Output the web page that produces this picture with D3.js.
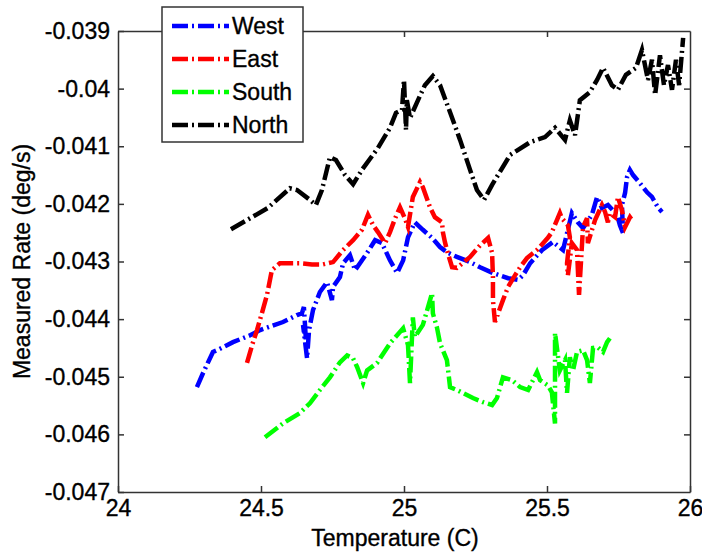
<!DOCTYPE html>
<html>
<head>
<meta charset="utf-8">
<script src="https://cdn.jsdelivr.net/npm/d3@7"></script>
<style>
  html, body { margin: 0; padding: 0; background: #ffffff; }
  svg { display: block; }
  text { font-family: "Liberation Sans", Arial, sans-serif; fill: #000; }
</style>
</head>
<body>
<svg id="chart" width="702" height="552"></svg>
<script>
// ---------------- data ----------------
const seriesNames = ["West", "East", "South", "North"];
const seriesColors = ["#0000ff", "#ff0000", "#00ff00", "#000000"];

const xTicks = [24, 24.5, 25, 25.5, 26];
const yTicks = [-0.039, -0.04, -0.041, -0.042, -0.043, -0.044, -0.045, -0.046, -0.047];
const yTickLabels = ["-0.039", "-0.04", "-0.041", "-0.042", "-0.043", "-0.044", "-0.045", "-0.046", "-0.047"];
const xTickLabels = ["24", "24.5", "25", "25.5", "26"];

const westT = [24.276,24.297,24.332,24.346,24.402,24.462,24.497,24.577,24.626,24.643,24.650,24.657,24.647,24.661,24.668,24.682,24.706,24.731,24.748,24.752,24.776,24.787,24.811,24.829,24.846,24.871,24.899,24.923,24.951,24.976,24.997,25.014,25.038,25.066,25.098,25.126,25.150,25.185,25.231,25.266,25.311,25.364,25.399,25.416,25.441,25.483,25.521,25.556,25.587,25.608,25.626,25.657,25.675,25.692,25.713,25.745,25.755,25.766,25.762,25.773,25.780,25.790,25.801,25.825,25.850,25.867,25.888,25.902];
const westRate = [-0.04518,-0.04494,-0.04457,-0.04454,-0.04440,-0.04428,-0.04419,-0.04405,-0.04393,-0.04390,-0.04379,-0.04436,-0.04410,-0.04468,-0.04419,-0.04384,-0.04353,-0.04336,-0.04367,-0.04344,-0.04327,-0.04303,-0.04289,-0.04315,-0.04303,-0.04285,-0.04263,-0.04268,-0.04298,-0.04320,-0.04298,-0.04258,-0.04232,-0.04245,-0.04259,-0.04275,-0.04284,-0.04292,-0.04301,-0.04310,-0.04320,-0.04329,-0.04332,-0.04324,-0.04303,-0.04280,-0.04266,-0.04280,-0.04216,-0.04232,-0.04242,-0.04219,-0.04188,-0.04207,-0.04202,-0.04219,-0.04237,-0.04251,-0.04202,-0.04181,-0.04153,-0.04141,-0.04150,-0.04164,-0.04180,-0.04188,-0.04206,-0.04214];

const eastT = [24.451,24.469,24.486,24.503,24.521,24.538,24.566,24.601,24.636,24.678,24.717,24.752,24.787,24.822,24.853,24.874,24.892,24.909,24.934,24.951,24.969,24.986,25.003,25.014,25.031,25.056,25.066,25.091,25.108,25.133,25.136,25.143,25.150,25.168,25.185,25.231,25.266,25.294,25.308,25.311,25.311,25.318,25.346,25.364,25.388,25.406,25.430,25.465,25.503,25.517,25.545,25.552,25.573,25.580,25.570,25.573,25.587,25.605,25.608,25.612,25.626,25.640,25.643,25.668,25.692,25.703,25.713,25.720,25.738,25.748,25.762,25.773,25.790,25.797];
const eastRate = [-0.04476,-0.04445,-0.04419,-0.04390,-0.04358,-0.04315,-0.04303,-0.04303,-0.04303,-0.04305,-0.04305,-0.04301,-0.04280,-0.04263,-0.04245,-0.04219,-0.04237,-0.04249,-0.04268,-0.04249,-0.04225,-0.04206,-0.04225,-0.04240,-0.04188,-0.04162,-0.04171,-0.04206,-0.04223,-0.04232,-0.04249,-0.04266,-0.04280,-0.04310,-0.04311,-0.04292,-0.04272,-0.04259,-0.04285,-0.04327,-0.04367,-0.04405,-0.04367,-0.04344,-0.04324,-0.04310,-0.04294,-0.04280,-0.04259,-0.04249,-0.04216,-0.04225,-0.04237,-0.04258,-0.04303,-0.04324,-0.04268,-0.04280,-0.04315,-0.04358,-0.04240,-0.04225,-0.04268,-0.04228,-0.04202,-0.04214,-0.04232,-0.04216,-0.04223,-0.04188,-0.04211,-0.04240,-0.04223,-0.04228];

const southT = [24.514,24.577,24.636,24.671,24.706,24.741,24.776,24.801,24.822,24.836,24.857,24.871,24.906,24.951,24.997,25.014,25.021,25.031,25.038,25.066,25.098,25.101,25.115,25.126,25.150,25.161,25.185,25.241,25.276,25.308,25.325,25.346,25.378,25.406,25.434,25.465,25.476,25.503,25.517,25.528,25.528,25.545,25.563,25.570,25.580,25.591,25.605,25.626,25.640,25.650,25.661,25.678,25.696,25.710,25.727];
const southRate = [-0.04605,-0.04581,-0.04563,-0.04546,-0.04523,-0.04501,-0.04475,-0.04463,-0.04468,-0.04483,-0.04511,-0.04489,-0.04476,-0.04442,-0.04416,-0.04445,-0.04511,-0.04397,-0.04431,-0.04410,-0.04355,-0.04390,-0.04414,-0.04442,-0.04471,-0.04518,-0.04523,-0.04537,-0.04544,-0.04549,-0.04537,-0.04501,-0.04506,-0.04518,-0.04523,-0.04492,-0.04506,-0.04515,-0.04527,-0.04581,-0.04424,-0.04489,-0.04471,-0.04528,-0.04466,-0.04489,-0.04457,-0.04454,-0.04471,-0.04511,-0.04450,-0.04449,-0.04457,-0.04440,-0.04428];

const northT = [24.395,24.462,24.524,24.601,24.626,24.671,24.692,24.713,24.741,24.762,24.794,24.822,24.853,24.909,24.951,24.972,24.993,25.000,25.007,25.010,25.021,25.049,25.073,25.101,25.126,25.161,25.196,25.231,25.255,25.280,25.308,25.371,25.441,25.493,25.528,25.563,25.580,25.598,25.615,25.650,25.675,25.696,25.727,25.748,25.776,25.811,25.832,25.853,25.867,25.878,25.895,25.909,25.923,25.937,25.951,25.962,25.976];
const northRate = [-0.04244,-0.04225,-0.04207,-0.04173,-0.04176,-0.04193,-0.04202,-0.04176,-0.04119,-0.04124,-0.04150,-0.04166,-0.04141,-0.04103,-0.04068,-0.04042,-0.04037,-0.03985,-0.04072,-0.04020,-0.04051,-0.04020,-0.03994,-0.03978,-0.03994,-0.04041,-0.04089,-0.04141,-0.04176,-0.04193,-0.04167,-0.04115,-0.04093,-0.04084,-0.04068,-0.04089,-0.04055,-0.04081,-0.04020,-0.04006,-0.03985,-0.03964,-0.03994,-0.04002,-0.03976,-0.03964,-0.03933,-0.03985,-0.03950,-0.04011,-0.03942,-0.03994,-0.03959,-0.04002,-0.03950,-0.03994,-0.03912];

// ---------------- layout ----------------
const svg = d3.select("#chart");
const W = 702, H = 552;
const plot = { left: 118, right: 690, top: 31, bottom: 492 };
const fontSize = 23;
const axisColor = "#333333";
const lineWidth = 4.5;
const dashPattern = "16,4,2,4";
const textStroke = 0.35;

svg.append("rect").attr("width", W).attr("height", H).attr("fill", "#ffffff");

const x = d3.scaleLinear().domain([24, 26]).range([plot.left, plot.right]);
const y = d3.scaleLinear().domain([-0.047, -0.039]).range([plot.bottom, plot.top]);

const allSeries = [
  { name: seriesNames[0], color: seriesColors[0], t: westT, r: westRate },
  { name: seriesNames[1], color: seriesColors[1], t: eastT, r: eastRate },
  { name: seriesNames[2], color: seriesColors[2], t: southT, r: southRate },
  { name: seriesNames[3], color: seriesColors[3], t: northT, r: northRate }
];

const line = d3.line().x(d => x(d[0])).y(d => y(d[1]));

const linesG = svg.append("g");
allSeries.forEach(s => {
  const pts = s.t.map((t, i) => [t, s.r[i]]);
  linesG.append("path")
    .datum(pts)
    .attr("d", line)
    .attr("fill", "none")
    .attr("stroke", s.color)
    .attr("stroke-width", lineWidth)
    .attr("stroke-dasharray", dashPattern)
    .attr("stroke-linejoin", "miter")
    .attr("stroke-linecap", "butt");
});

// axes (ticks inward, box on all sides)
const tickLen = 6;
const fmtY = d => yTickLabels[yTicks.indexOf(d)];
const fmtX = d => xTickLabels[xTicks.indexOf(d)];

const gLeft = svg.append("g").attr("transform", `translate(${plot.left},0)`)
  .call(d3.axisLeft(y).tickValues(yTicks).tickFormat(fmtY).tickSizeInner(-tickLen).tickSizeOuter(0).tickPadding(8));
const gRight = svg.append("g").attr("transform", `translate(${plot.right},0)`)
  .call(d3.axisRight(y).tickValues(yTicks).tickFormat("").tickSizeInner(-tickLen).tickSizeOuter(0));
const gBottom = svg.append("g").attr("transform", `translate(0,${plot.bottom})`)
  .call(d3.axisBottom(x).tickValues(xTicks).tickFormat(fmtX).tickSizeInner(-tickLen).tickSizeOuter(0).tickPadding(8));
const gTop = svg.append("g").attr("transform", `translate(0,${plot.top})`)
  .call(d3.axisTop(x).tickValues(xTicks).tickFormat("").tickSizeInner(-tickLen).tickSizeOuter(0));

[gLeft, gRight, gBottom, gTop].forEach(g => {
  g.selectAll("path.domain").attr("stroke", axisColor).attr("stroke-width", 1.5);
  g.selectAll(".tick line").attr("stroke", axisColor).attr("stroke-width", 1.5);
  g.selectAll(".tick text").attr("font-size", fontSize).attr("fill", "#000")
    .attr("stroke", "#000").attr("stroke-width", textStroke)
    .attr("font-family", '"Liberation Sans", Arial, sans-serif');
});
gTop.selectAll(".tick").filter(d => d === 24 || d === 26).remove();
gRight.selectAll(".tick").filter(d => d === -0.039 || d === -0.047).remove();

// axis labels
svg.append("text")
  .attr("x", 395)
  .attr("y", 546)
  .attr("text-anchor", "middle")
  .attr("font-size", fontSize)
  .attr("stroke", "#000").attr("stroke-width", textStroke)
  .text("Temperature (C)");

svg.append("text")
  .attr("transform", `translate(30,${(plot.top + plot.bottom) / 2}) rotate(-90)`)
  .attr("text-anchor", "middle")
  .attr("font-size", fontSize)
  .attr("stroke", "#000").attr("stroke-width", textStroke)
  .text("Measured Rate (deg/s)");

// legend
const legend = { x: 162, y: 7, w: 141, h: 135 };
const lg = svg.append("g");
lg.append("rect")
  .attr("x", legend.x).attr("y", legend.y)
  .attr("width", legend.w).attr("height", legend.h)
  .attr("fill", "#ffffff").attr("stroke", axisColor).attr("stroke-width", 1.5);

allSeries.forEach((s, i) => {
  const cy = 26 + i * 33;
  lg.append("line")
    .attr("x1", 172).attr("x2", 229)
    .attr("y1", cy).attr("y2", cy)
    .attr("stroke", s.color)
    .attr("stroke-width", lineWidth)
    .attr("stroke-dasharray", dashPattern);
  lg.append("text")
    .attr("x", 232).attr("y", cy + 8)
    .attr("font-size", fontSize)
    .attr("stroke", "#000").attr("stroke-width", textStroke)
    .text(s.name);
});
</script>
</body>
</html>
